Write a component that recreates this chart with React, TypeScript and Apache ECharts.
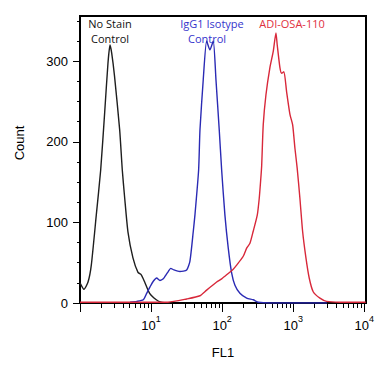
import React, { useEffect, useRef } from "react";
import * as echarts from "echarts";

// FL1 positions are given as log10(FL1) (decades); counts are events per channel
const noStainLogFL1 = [0, 0.056, 0.113, 0.159, 0.229, 0.291, 0.347, 0.394, 0.422, 0.446, 0.485, 0.558, 0.595, 0.629, 0.675, 0.745, 0.816, 0.862, 0.91, 0.98, 1.073, 1.139, 1.266];
const noStainCount = [25, 17, 26, 47, 109, 165, 236, 298, 320, 310, 282, 215, 165, 130, 88, 56, 38, 35, 26, 12, 4, 1, 0];

const isotypeLogFL1 = [0.703, 0.8, 0.89, 0.938, 0.985, 1.031, 1.079, 1.125, 1.172, 1.21, 1.242, 1.276, 1.322, 1.406, 1.501, 1.547, 1.594, 1.617, 1.669, 1.688, 1.734, 1.782, 1.828, 1.875, 1.913, 1.959, 1.993, 2.039, 2.086, 2.134, 2.18, 2.25, 2.345, 2.437, 2.508, 2.672, 3.474];
const isotypeCount = [1, 2, 4, 12, 20, 27, 31, 28, 30, 35, 39, 43, 41, 39, 41, 52, 89, 109, 165, 215, 277, 325, 314, 325, 277, 215, 165, 109, 68, 37, 22, 12, 6, 4, 1, 0, 0];

const adiLogFL1 = [0, 1.238, 1.501, 1.688, 1.782, 1.923, 1.993, 2.063, 2.156, 2.204, 2.297, 2.345, 2.391, 2.437, 2.494, 2.522, 2.541, 2.556, 2.578, 2.616, 2.672, 2.719, 2.757, 2.775, 2.813, 2.837, 2.869, 2.907, 2.954, 2.992, 3.024, 3.056, 3.094, 3.132, 3.179, 3.225, 3.281, 3.376, 3.47, 3.657, 4.02];
const adiCount = [1, 1, 5, 9, 16, 26, 30, 35, 42, 47, 58, 68, 74, 89, 109, 130, 151, 170, 221, 258, 292, 312, 335, 320, 292, 285, 287, 262, 234, 221, 192, 167, 130, 89, 56, 31, 14, 6, 2, 1, 1];

const xLabelDecades = [1, 2, 3, 4];
const xMajorTicks = [0, 1, 2, 3, 4];
const yLabels = [0, 100, 200, 300];
const yMinorTicks = [25, 50, 75, 125, 150, 175, 225, 250, 275, 325, 350];

const zip = (xs: number[], ys: number[]) => xs.map((x, i) => [x, ys[i]]);

const xMinorTicks: number[] = [];
for (let d = 0; d < 4; d++) for (let m = 2; m <= 9; m++) xMinorTicks.push(d + Math.log10(m));

export default function App() {
  const ref = useRef<HTMLDivElement>(null);
  useEffect(() => {
    if (!ref.current) return;
    const chart = echarts.init(ref.current, undefined, { renderer: "svg" });
    const font = "Liberation Sans, Arial, sans-serif";
    const annFont = "Open Sans, Noto Sans, sans-serif";
    chart.setOption({
      animation: false,
      grid: { left: 80, top: 16, right: 12, bottom: 63, show: true, borderColor: "#000", borderWidth: 2 },
      xAxis: [
        {
          type: "value", min: 0, max: 4.024,
          splitLine: { show: false },
          axisLine: { show: true, lineStyle: { color: "#000", width: 2 } },
          axisTick: { show: true, customValues: xMajorTicks, length: 9, lineStyle: { color: "#000", width: 1 } },
          axisLabel: {
            customValues: xLabelDecades, margin: 11,
            formatter: (v: number) => `{b|10}{s|${v}}`,
            rich: {
              b: { fontSize: 13, fontFamily: font, color: "#000", lineHeight: 18, verticalAlign: "bottom" },
              s: { fontSize: 9, fontFamily: font, color: "#000", lineHeight: 18, verticalAlign: "top" },
            },
          },
        },
        {
          type: "value", min: 0, max: 4.024, position: "bottom",
          splitLine: { show: false },
          axisLine: { show: false },
          axisTick: { show: true, customValues: xMinorTicks, length: 5, lineStyle: { color: "#000", width: 1 } },
          axisLabel: { show: false },
        },
      ],
      yAxis: [
        {
          type: "value", min: 0, max: 356,
          splitLine: { show: false },
          axisLine: { show: true, lineStyle: { color: "#000", width: 2 } },
          axisTick: { show: true, customValues: yLabels, length: 7, lineStyle: { color: "#000", width: 1 } },
          axisLabel: { customValues: yLabels, margin: 12, fontSize: 13, fontFamily: font, color: "#000" },
        },
        {
          type: "value", min: 0, max: 356, position: "left",
          splitLine: { show: false },
          axisLine: { show: false },
          axisTick: { show: true, customValues: yMinorTicks, length: 3, lineStyle: { color: "#000", width: 1 } },
          axisLabel: { show: false },
        },
      ],
      series: [
        { name: "No Stain Control", type: "line", data: zip(noStainLogFL1, noStainCount), showSymbol: false, smooth: 0.2, lineStyle: { color: "#1e1e1e", width: 1.4 }, itemStyle: { color: "#1e1e1e" } },
        { name: "IgG1 Isotype Control", type: "line", data: zip(isotypeLogFL1, isotypeCount), showSymbol: false, smooth: 0.2, lineStyle: { color: "#2a2ab4", width: 1.4 }, itemStyle: { color: "#2a2ab4" } },
        { name: "ADI-OSA-110", type: "line", data: zip(adiLogFL1, adiCount), showSymbol: false, smooth: 0.2, lineStyle: { color: "#d8283a", width: 1.4 }, itemStyle: { color: "#d8283a" } },
      ],
      graphic: [
        { type: "text", x: 110, y: 23, style: { text: "No Stain", fill: "#111", font: `11px ${annFont}`, align: "center", verticalAlign: "middle" } },
        { type: "text", x: 110, y: 38, style: { text: "Control", fill: "#111", font: `11px ${annFont}`, align: "center", verticalAlign: "middle" } },
        { type: "text", x: 212, y: 23, style: { text: "IgG1 Isotype", fill: "#3535cc", font: `11px ${annFont}`, align: "center", verticalAlign: "middle" } },
        { type: "text", x: 207, y: 38, style: { text: "Control", fill: "#3535cc", font: `11px ${annFont}`, align: "center", verticalAlign: "middle" } },
        { type: "text", x: 292, y: 23, style: { text: "ADI-OSA-110", fill: "#e0303f", font: `11px ${annFont}`, align: "center", verticalAlign: "middle" } },
        { type: "text", x: 19, y: 143, rotation: Math.PI / 2, style: { text: "Count", fill: "#000", font: `13px ${font}`, align: "center", verticalAlign: "middle" } },
        { type: "text", x: 223, y: 352, style: { text: "FL1", fill: "#000", font: `13px ${font}`, align: "center", verticalAlign: "middle" } },
      ],
    });
    return () => chart.dispose();
  }, []);
  return <div ref={ref} style={{ width: 378, height: 366, position: "absolute", left: 0, top: 0 }} />;
}
